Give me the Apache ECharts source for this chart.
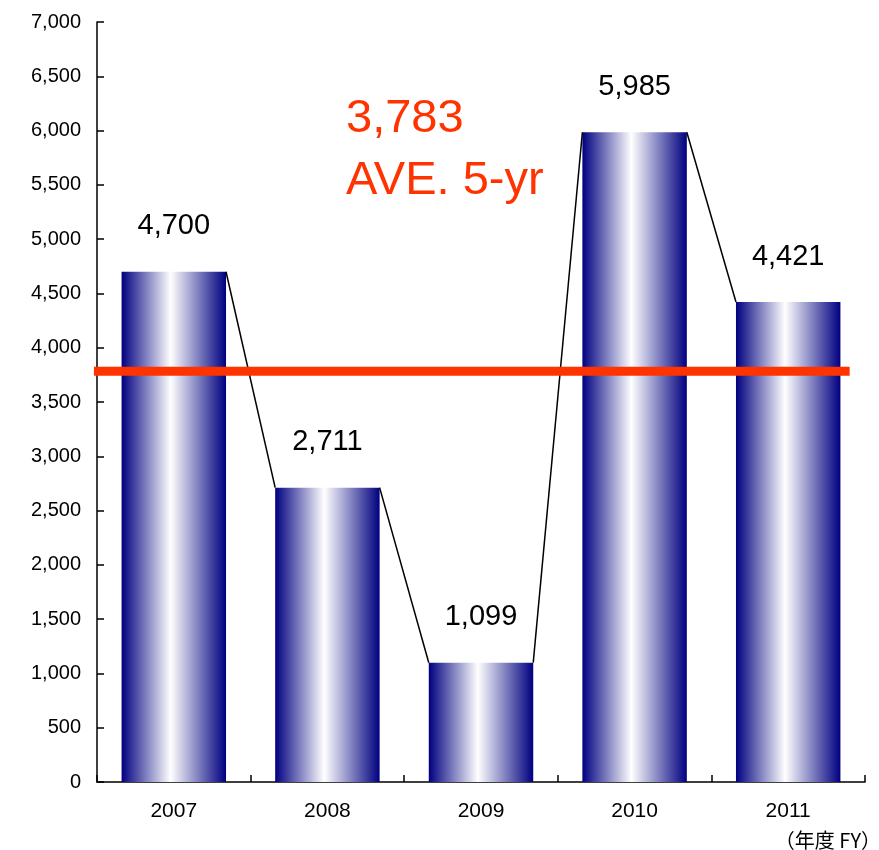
<!DOCTYPE html>
<html><head><meta charset="utf-8">
<script src="https://cdn.jsdelivr.net/npm/echarts@6/dist/echarts.min.js"></script>
<style>html,body{margin:0;padding:0;background:#fff}#c{width:879px;height:850px}</style>
</head><body><div id="c"></div>
<script>
const years = ['2007','2008','2009','2010','2011'];
const values = [4700, 2711, 1099, 5985, 4421];
const average = 3783;
const averageLabel = 'AVE. 5-yr';
const unitLabel = '（年度 FY）';
const yTicks = {min: 0, max: 7000, interval: 500};

const fmt = v => v.toLocaleString('en-US');
const font = '"Liberation Sans", Arial, sans-serif';
const chart = echarts.init(document.getElementById('c'));
const BAR_RATIO = 0.68;

chart.setOption({
  animation: false,
  grid: {left: 97, right: 14, top: 22, bottom: 68},
  xAxis: {
    type: 'category', data: years, boundaryGap: true,
    axisLine: {show: true, lineStyle: {color: '#000', width: 1.5}},
    axisTick: {show: true, inside: true, length: 7, alignWithLabel: false, lineStyle: {color: '#000', width: 1.5}},
    axisLabel: {color: '#000', fontSize: 21, fontFamily: font, margin: 19}
  },
  yAxis: {
    type: 'value', min: yTicks.min, max: yTicks.max, interval: yTicks.interval,
    splitLine: {show: false},
    axisLine: {show: true, lineStyle: {color: '#000', width: 1.5}},
    axisTick: {show: true, inside: true, length: 7, lineStyle: {color: '#000', width: 1.5}},
    axisLabel: {color: '#000', fontSize: 20, fontFamily: font, margin: 16, formatter: v => fmt(v)}
  },
  series: [
    {
      type: 'bar', data: values, barWidth: (BAR_RATIO * 100) + '%',
      itemStyle: {color: new echarts.graphic.LinearGradient(0, 0, 1, 0, [
        {offset: 0, color: '#000080'},
        {offset: 0.47, color: '#ffffff'},
        {offset: 1, color: '#000080'}
      ])},
      label: {show: true, position: 'top', distance: 31, color: '#000', fontSize: 29, fontFamily: font, formatter: p => fmt(p.value)},
      z: 2
    },
    {
      type: 'custom', z: 3, silent: true,
      data: values.slice(0, -1).map((v, i) => [i, v, values[i + 1]]),
      renderItem: (params, api) => {
        const i = api.value(0);
        const band = api.size([1, 0])[0];
        const p1 = api.coord([i, api.value(1)]);
        const p2 = api.coord([i + 1, api.value(2)]);
        const hw = band * BAR_RATIO / 2;
        return {type: 'line', shape: {x1: p1[0] + hw, y1: p1[1], x2: p2[0] - hw, y2: p2[1]},
          style: {stroke: '#000', lineWidth: 1.5}};
      }
    },
    {
      type: 'custom', z: 4, silent: true,
      data: [[average]],
      renderItem: (params, api) => {
        const band = api.size([1, 0])[0];
        const y = api.coord([0, api.value(0)])[1];
        const x1 = api.coord([0, 0])[0] - band * 0.52;
        const x2 = api.coord([years.length - 1, 0])[0] + band * 0.4;
        return {type: 'line', shape: {x1, y1: y, x2, y2: y}, style: {stroke: '#FF3300', lineWidth: 9}};
      }
    }
  ],
  graphic: [
    {type: 'text', left: 346, top: 88, style: {text: fmt(average) + '\n' + averageLabel, fill: '#FF3300', fontSize: 47, fontFamily: font, lineHeight: 62}},
    {type: 'text', x: 0, y: 0, style: {x: 881, y: 840, text: unitLabel, align: 'right', verticalAlign: 'middle', fill: '#000', fontSize: 20, fontFamily: '"Noto Sans CJK JP", sans-serif'}}
  ]
});
</script></body></html>
